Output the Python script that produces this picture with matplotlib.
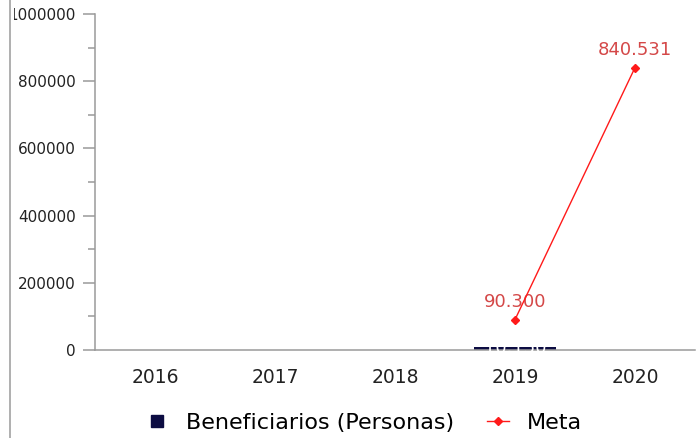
import matplotlib
matplotlib.use("Agg")
import matplotlib.pyplot as plt
from matplotlib.lines import Line2D
from matplotlib.patches import Rectangle
from matplotlib.ticker import MultipleLocator

plt.rcParams["font.family"] = ["DejaVu Sans"]

years = ["2016", "2017", "2018", "2019", "2020"]
beneficiarios = [0, 0, 0, 10150, 0]
bar_labels = ["", "", "", "10.150", ""]
meta_years = ["2019", "2020"]
meta_values = [90300, 840531]
meta_labels = ["90.300", "840.531"]
y_ticks = [0, 200000, 400000, 600000, 800000, 1000000]

bar_color = "#0c0c42"
line_color = "#ff1a1a"
label_color = "#d44848"
axis_color = "#9a9a9a"

fig = plt.figure(figsize=(7, 4.38), dpi=100)
ax = fig.add_axes([95/700, 1-350/438, 600/700, 336/438])

xpos = list(range(len(years)))
bars = ax.bar(xpos, beneficiarios, width=0.68, color=bar_color, zorder=2)
for b, lab in zip(bars, bar_labels):
    if lab:
        t = ax.text(b.get_x() + b.get_width()/2, b.get_height()/2, lab,
                    ha="center", va="center", color="white", fontsize=13, zorder=3)
        t.set_clip_path(b)

mx = [years.index(y) for y in meta_years]
ax.plot(mx, meta_values, color=line_color, lw=1.0, marker="D", markersize=4.5, zorder=4)
for x, v, lab in zip(mx, meta_values, meta_labels):
    ax.annotate(lab, (x, v), xytext=(0, 13), textcoords="offset points",
                ha="center", va="center", color=label_color, fontsize=13)

ax.set_xlim(-0.5, len(years) - 0.5)
ax.set_ylim(0, 1000000)
ax.set_xticks(xpos)
ax.set_xticklabels(years, fontsize=13.5, color="#222222")
ax.set_yticks(y_ticks)
ax.set_yticklabels([str(v) for v in y_ticks], fontsize=11, color="#222222")
ax.yaxis.set_minor_locator(MultipleLocator(100000))
ax.tick_params(axis="x", length=0, pad=13)
ax.tick_params(axis="y", which="major", length=8.6, width=1.1, color=axis_color, pad=5)
ax.tick_params(axis="y", which="minor", length=5, width=1.1, color=axis_color)

for s in ["top", "right"]:
    ax.spines[s].set_visible(False)
for s in ["left", "bottom"]:
    ax.spines[s].set_color(axis_color)
    ax.spines[s].set_linewidth(1.1)

# white mask covering the left margin (clips the long tick label)
fig.add_artist(Rectangle((0, 0), 14.5/700, 1, transform=fig.transFigure,
                         facecolor="white", edgecolor="none", zorder=5))
# left border line
fig.add_artist(Line2D([10/700, 10/700], [0, 1], transform=fig.transFigure,
                      color=axis_color, lw=1.1, zorder=6))

handles = [
    Line2D([], [], marker="s", linestyle="none", color=bar_color, markersize=8),
    Line2D([], [], color=line_color, lw=1.0, marker="D", markersize=4.5),
]
fig.legend(handles, ["Beneficiarios (Personas)", "Meta"], loc="center",
           bbox_to_anchor=(0.52, 1-423/438), ncol=2, frameon=False, fontsize=16,
           handlelength=1.0, handletextpad=0.8, columnspacing=1.5)

fig.savefig("out.png", dpi=100)
